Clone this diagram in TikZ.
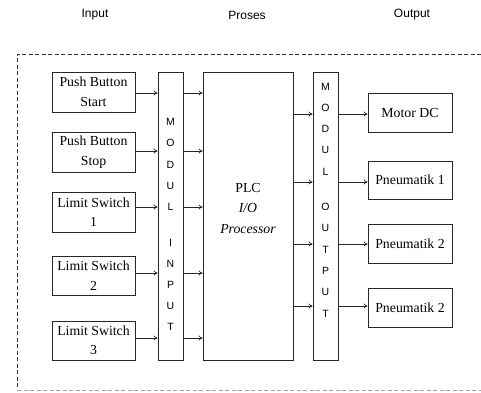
\documentclass[tikz,border=0pt]{standalone}
\usepackage{fontspec}
\setmainfont{Liberation Serif}
\setsansfont{Liberation Sans}
\usetikzlibrary{arrows.meta}
\begin{document}
\begin{tikzpicture}[x=1pt,y=-1pt,
  box/.style={draw=black!85,line width=0.8pt,inner sep=0pt,font=\fontsize{13.8}{19.5}\selectfont,align=center},
  mod/.style={draw=black!85,line width=0.8pt,inner sep=0pt},
  letter/.style={font=\sffamily\fontsize{10.5}{12}\selectfont,inner sep=0pt},
  title/.style={font=\sffamily\fontsize{12}{14}\selectfont,inner sep=0pt},
  arr/.style={draw=black!85,line width=0.7pt,-{To[length=4pt,width=5pt]}}]
\useasboundingbox (0,0) rectangle (481,392);
% titles
\node[title] (tin) at (95,15) {Input};
\node[title] (tpr) at (247,15) {Proses};
\node[title] (tout) at (412,15) {Output};
% dashed frame
\draw[black!80,line width=0.7pt,dash pattern=on 4pt off 2.5pt] (481,54) -- (17,54) -- (17,390);
\draw[black!35,line width=0.7pt,dash pattern=on 4pt off 2.5pt] (17,390) -- (481,390);
% input boxes
\node[box,minimum width=83pt,minimum height=40pt] (pbs) at (93.5,92) {Push Button\\Start};
\node[box,minimum width=83pt,minimum height=40pt] (pbt) at (93.5,152) {Push Button\\Stop};
\node[box,minimum width=83pt,minimum height=40pt] (ls1) at (93.5,212) {Limit Switch\\1};
\node[box,minimum width=83pt,minimum height=39pt] (ls2) at (93.5,275.5) {Limit Switch\\2};
\node[box,minimum width=83pt,minimum height=39pt] (ls3) at (93.5,340.5) {Limit Switch\\3};
% modul input
\node[mod,minimum width=25pt,minimum height=288pt] (mi) at (170.5,216) {};
\foreach \l/\yy in {M/122,O/143,D/165,U/186,L/207,I/243,N/264,P/285,U/306,T/327}
  \node[letter] at (170.5,\yy) {\l};
% PLC
\node[mod,minimum width=90pt,minimum height=288pt] (plc) at (248,216) {};
\node[font=\fontsize{13.8}{19}\selectfont,inner sep=0pt] (plct) at (248,188) {PLC};
\node[font=\itshape\fontsize{13.8}{19}\selectfont,inner sep=0pt] (iot) at (248,208) {I/O};
\node[font=\itshape\fontsize{13.8}{19}\selectfont,inner sep=0pt] (prt) at (248,229) {Processor};
% modul output
\node[mod,minimum width=25pt,minimum height=288pt] (mo) at (325.5,216) {};
\foreach \l/\yy in {M/87,O/108,D/129,U/150,L/172,O/207,U/228,T/250,P/271,U/292,T/314}
  \node[letter] at (325.5,\yy) {\l};
% output boxes
\node[box,minimum width=84pt,minimum height=39pt] (mdc) at (410,112.5) {Motor DC};
\node[box,minimum width=84pt,minimum height=38pt] (pn1) at (410,180) {Pneumatik 1};
\node[box,minimum width=84pt,minimum height=39pt] (pn2) at (410,243.5) {Pneumatik 2};
\node[box,minimum width=84pt,minimum height=39pt] (pn3) at (410,307.5) {Pneumatik 2};
% arrows input -> modul -> plc
\foreach \n/\yy in {pbs/93,pbt/151,ls1/207,ls2/273,ls3/338}{
  \draw[arr] (\n.east |- 0,\yy) -- (mi.west |- 0,\yy);
  \draw[arr] (mi.east |- 0,\yy) -- (plc.west |- 0,\yy);
}
% arrows plc -> modul -> outputs
\foreach \n/\yy in {mdc/114,pn1/182,pn2/244,pn3/306}{
  \draw[arr] (plc.east |- 0,\yy) -- (mo.west |- 0,\yy);
  \draw[arr] (mo.east |- 0,\yy) -- (\n.west |- 0,\yy);
}
\end{tikzpicture}
\end{document}
